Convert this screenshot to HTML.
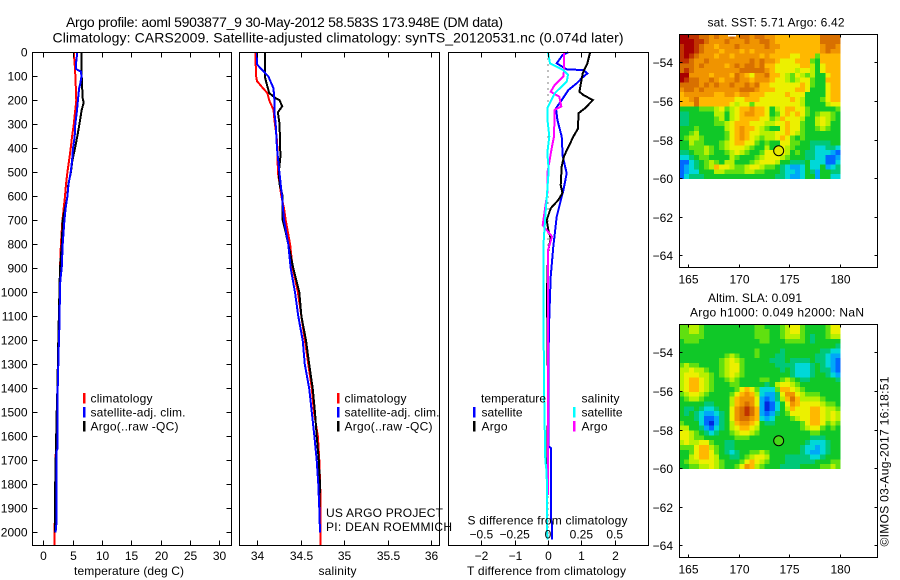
<!DOCTYPE html>
<html lang="en">
<head>
<meta charset="utf-8">
<title>Argo profile aoml 5903877_9</title>
<style>
html,body{margin:0;padding:0;background:#fff;width:900px;height:580px;overflow:hidden}
svg{display:block}
text{font-family:"Liberation Sans",sans-serif;fill:#000;font-size:12px}
</style>
</head>
<body>
<svg id="chart" xmlns="http://www.w3.org/2000/svg" width="900" height="580" viewBox="0 0 900 580">
  <text x="66" y="27" font-size="14" style="font-size:14px" textLength="437">Argo profile: aoml 5903877_9 30-May-2012 58.583S 173.948E (DM data)</text>
  <text x="52.5" y="42.5" style="font-size:14px" textLength="571">Climatology: CARS2009. Satellite-adjusted climatology: synTS_20120531.nc (0.074d later)</text>
  <g id="layer-marks"></g>
  <g id="layer-maps"></g>
  <g id="layer-axes"></g>

  <g>
    <rect x="83" y="393" width="2.5" height="10.5" fill="#f00"/>
    <rect x="83" y="407" width="2.5" height="10.5" fill="#00f"/>
    <rect x="83" y="421" width="2.5" height="10.5" fill="#000"/>
    <text x="90.5" y="402.5" textLength="62">climatology</text>
    <text x="90.5" y="416.5" textLength="95">satellite-adj. clim.</text>
    <text x="90.5" y="430.5" textLength="88">Argo(..raw -QC)</text>
  </g>
  <g>
    <rect x="337" y="393" width="2.5" height="10.5" fill="#f00"/>
    <rect x="337" y="407" width="2.5" height="10.5" fill="#00f"/>
    <rect x="337" y="421" width="2.5" height="10.5" fill="#000"/>
    <text x="344.5" y="402.5" textLength="62">climatology</text>
    <text x="344.5" y="416.5" textLength="95">satellite-adj. clim.</text>
    <text x="344.5" y="430.5" textLength="88">Argo(..raw -QC)</text>
    <text x="326" y="517" textLength="117">US ARGO PROJECT</text>
    <text x="326" y="531" textLength="126">PI: DEAN ROEMMICH</text>
  </g>
  <g>
    <text x="481" y="402.5" textLength="65">temperature</text>
    <text x="581.5" y="402.5" textLength="38">salinity</text>
    <rect x="473" y="407" width="2.5" height="10.5" fill="#00f"/>
    <rect x="473" y="421" width="2.5" height="10.5" fill="#000"/>
    <rect x="573" y="407" width="2.5" height="10.5" fill="#0ff"/>
    <rect x="573" y="421" width="2.5" height="10.5" fill="#f0f"/>
    <text x="481.5" y="416.5" textLength="41">satellite</text>
    <text x="481.5" y="430.5" textLength="26">Argo</text>
    <text x="581.5" y="416.5" textLength="41">satellite</text>
    <text x="581.5" y="430.5" textLength="26">Argo</text>
  </g>

  <text x="74" y="575" textLength="110">temperature (deg C)</text>
  <text x="318.5" y="575" textLength="38">salinity</text>
  <text x="467.5" y="524.5" textLength="160">S difference from climatology</text>
  <text x="467" y="575" textLength="159">T difference from climatology</text>

  <text x="707.5" y="26.5" textLength="137">sat. SST: 5.71  Argo: 6.42</text>
  <text x="708" y="302" textLength="94">Altim. SLA: 0.091</text>
  <text x="690" y="316.5" textLength="174">Argo h1000: 0.049 h2000: NaN</text>
  <text transform="translate(888.5,546.5) rotate(-90)" x="0" y="0" textLength="170">©IMOS 03-Aug-2017 16:18:51</text>
</svg>

<script>
// ---- profile data (depth in dbar) ----
const tempClimDepth = [0,50,100,200,250,300,350,400,450,500,550,600,650,700,800,900,1000,1200,1400,1500,1700,1980,2054];
const tempClimValues = [5.18,5.35,5.46,5.63,5.4,5.2,4.9,4.67,4.4,4.1,3.86,3.7,3.47,3.25,3.0,2.85,2.75,2.55,2.4,2.3,2.1,1.95,1.9];
const tempArgoDepth = [0,100,190,210,240,300,350,400,450,500,550,600,650,700,800,900,1000,1200,1400,1500,1800,2000];
const tempArgoValues = [6.55,6.54,6.7,6.88,6.54,6.15,5.8,5.4,4.95,4.7,4.26,4.1,3.7,3.3,3.15,2.85,2.75,2.56,2.4,2.28,2.03,2.0];
const tempSatDepth = [0,50,70,80,100,130,150,200,250,300,350,400,450,500,550,600,650,700,800,900,950,1000,1150,1250,1400,1650,1660,1950,2000];
const tempSatValues = [5.8,5.55,5.6,6.4,6.5,6.3,6.1,5.9,5.7,5.45,5.35,5.06,4.9,4.66,4.3,4.1,3.8,3.6,3.3,3.13,2.9,2.85,2.73,2.6,2.45,2.45,2.28,2.28,2.1];

const salClimDepth = [0,100,120,150,170,200,240,280,310,350,400,500,600,650,700,800,900,1000,1400,1500,1600,1700,1850,2054];
const salClimValues = [33.98,33.99,34.0,34.07,34.12,34.14,34.19,34.2,34.21,34.225,34.234,34.24,34.28,34.31,34.33,34.38,34.41,34.47,34.63,34.655,34.7,34.716,34.73,34.73];
const salArgoDepth = [0,100,130,170,190,200,225,250,300,400,430,500,550,600,700,750,800,900,1000,1100,1200,1300,1400,1500,1600,1700,1800,1900];
const salArgoValues = [34.09,34.09,34.11,34.14,34.21,34.26,34.29,34.24,34.26,34.265,34.27,34.25,34.26,34.295,34.295,34.33,34.36,34.417,34.486,34.51,34.563,34.6,34.64,34.667,34.686,34.71,34.724,34.716];
const salSatDepth = [0,50,70,100,150,200,250,300,400,500,600,700,800,900,1000,1100,1200,1300,1400,1500,1600,1700,1800,1900,2000];
const salSatValues = [34.0,34.0,34.05,34.13,34.19,34.2,34.2,34.215,34.23,34.257,34.287,34.31,34.36,34.387,34.437,34.475,34.525,34.55,34.6,34.63,34.66,34.686,34.705,34.716,34.724];

const diffTArgoDepth = [0,46,74,88,164,178,199,233,254,317,351,433,476,553,587,615,650,699,740,775,824,851,1000,1400,1845];
const diffTArgoValues = [1.26,1.18,1.08,1.04,0.94,1.06,1.34,1.11,0.91,0.9,0.76,0.48,0.41,0.38,0.43,0.31,0.08,-0.04,0.01,0.08,0.01,0.0,-0.03,0.0,-0.02];
const diffTSatDepth = [0,11,46,71,74,88,108,129,157,199,233,282,351,433,504,574,685,810,935,1100,1300,1640,1650,1950,1960,2030];
const diffTSatValues = [0.61,0.44,0.26,0.56,1.06,1.18,1.01,0.86,0.61,0.41,0.24,0.28,0.41,0.44,0.56,0.46,0.26,0.16,0.08,0.04,0.01,0.01,0.09,0.09,0.12,0.12];
const diffSArgoDepth = [0,74,101,136,164,185,226,240,351,393,504,587,643,720,768,824,935,1400,1845];
const diffSArgoValues = [0.12,0.12,0.115,0.05,0.02,0.085,0.1,0.05,0.045,0.03,-0.005,-0.005,-0.02,-0.04,0.03,0.0,0.0,0.0,0.0];
const diffSSatDepth = [0,46,74,94,122,171,233,275,351,420,490,574,685,810,949,1400,1700,1750,2030];
const diffSSatValues = [0.0,0.015,0.115,0.15,0.14,0.05,-0.005,-0.005,0.01,-0.005,0.005,-0.005,-0.02,-0.035,-0.035,-0.03,-0.02,-0.01,-0.005];

// ---- tick labels ----
const depthTicks = [0,100,200,300,400,500,600,700,800,900,1000,1100,1200,1300,1400,1500,1600,1700,1800,1900,2000];
const tempTicks = [0,5,10,15,20,25,30];
const salTicks = [34,34.5,35,35.5,36];
const diffTTicks = [-2,-1,0,1,2];
const diffSTicks = [-0.5,-0.25,0,0.25,0.5];
const lonTicks = [165,170,175,180];
const latTicks = [-54,-56,-58,-60,-62,-64];

// ---- map data: colour class index per cell, north to south, west to east ----
const sstGrid = [
[13,13,12,12,11,11,10,11,10,10,11,10,11,11,10,11,11,10,10,9,9,9,9,9,9,9,9,9,11,11,11,11],
[13,13,13,12,12,11,10,10,10,11,10,10,10,11,10,10,11,11,10,9,9,9,9,9,9,9,9,9,11,11,11,11],
[12,13,13,12,11,10,10,9,10,10,10,11,10,10,10,10,10,11,10,10,9,9,9,9,9,9,9,9,10,11,11,10],
[12,13,13,12,11,10,10,10,9,10,10,10,9,10,9,10,10,10,10,9,9,9,9,9,9,9,9,9,10,11,10,10],
[12,13,12,11,10,10,10,9,10,10,9,10,10,10,10,10,9,10,9,9,9,9,8,8,9,9,9,6,9,9,9,9],
[12,12,11,10,10,11,10,10,10,10,10,10,10,10,11,10,11,10,10,9,8,8,8,9,9,9,6,5,9,9,9,9],
[11,11,11,10,11,10,10,10,10,9,10,11,10,11,11,10,11,9,9,8,8,8,8,8,9,9,7,5,8,9,9,9],
[11,12,11,10,10,10,10,10,10,10,10,10,11,11,11,11,11,10,9,8,8,8,8,7,8,8,7,5,8,9,9,9],
[13,13,10,10,10,10,9,10,10,10,9,11,10,9,8,10,10,11,9,9,8,7,6,8,7,6,7,5,5,8,9,9],
[13,12,11,11,10,10,11,10,9,10,10,11,10,10,9,10,10,10,9,8,8,7,6,7,8,8,6,5,5,9,9,9],
[11,11,11,11,10,11,10,11,10,10,11,10,10,11,10,11,9,9,8,8,8,8,8,8,9,8,6,5,5,8,9,9],
[10,11,11,10,11,10,10,10,10,10,10,10,11,11,11,10,9,9,9,8,8,8,8,9,9,8,5,5,5,8,9,9],
[9,10,10,10,10,10,10,9,9,10,10,9,10,10,9,9,9,8,8,8,8,9,8,8,8,5,5,5,5,8,9,9],
[9,9,10,11,9,9,9,9,9,9,9,8,8,9,9,9,8,8,8,8,8,8,9,8,7,5,5,5,6,8,9,9],
[9,9,9,11,9,9,9,9,9,9,8,7,8,8,6,8,8,8,8,8,8,8,8,8,7,5,5,5,5,7,8,8],
[5,5,5,5,6,6,6,7,8,6,7,8,9,9,10,9,9,8,5,7,8,9,9,8,8,6,5,5,5,5,5,6],
[4,4,5,5,5,5,5,7,7,5,7,8,9,10,10,9,9,8,5,6,8,9,8,9,8,6,5,6,7,7,6,5],
[4,4,5,5,5,5,5,6,7,5,7,8,9,9,9,9,8,8,6,7,9,8,8,8,7,5,5,7,8,7,6,5],
[4,4,5,5,5,5,5,6,6,7,8,9,9,9,8,8,8,7,7,8,8,9,8,8,6,5,5,7,8,7,5,5],
[5,5,5,6,5,5,5,5,5,7,8,9,10,9,9,8,7,6,5,5,8,9,8,8,6,5,5,6,7,6,5,5],
[5,5,6,7,5,5,5,5,5,6,8,9,10,9,8,8,7,7,7,8,8,9,8,7,6,5,5,5,5,5,5,5],
[5,6,7,7,6,5,5,5,5,6,8,9,10,9,8,7,6,7,7,8,9,8,6,5,6,5,5,5,5,5,5,5],
[5,5,7,6,6,5,5,5,6,7,8,9,9,8,8,6,5,6,5,5,8,8,6,6,5,5,4,4,4,4,5,5],
[5,5,6,6,6,7,6,5,6,7,8,8,8,7,6,5,5,7,5,5,8,7,6,5,5,5,4,3,3,4,4,3],
[4,4,5,6,6,7,6,5,5,6,7,8,7,6,5,5,6,8,8,8,8,7,5,6,5,4,4,3,3,3,2,1],
[3,3,4,5,6,6,5,5,5,5,7,6,5,5,5,6,7,8,8,8,7,6,5,5,5,4,4,3,3,1,1,2],
[1,1,3,4,5,6,7,6,5,7,7,5,5,5,6,7,8,8,8,7,5,5,4,4,4,5,3,3,3,1,1,3],
[1,2,3,4,5,6,7,9,8,8,7,6,6,7,8,8,7,6,6,5,4,3,2,2,3,5,3,3,5,2,3,4],
[1,2,3,3,5,5,5,7,7,6,6,6,6,7,7,6,6,5,5,5,4,3,3,2,3,5,4,2,5,5,4,4],
[1,3,4,4,4,5,5,5,5,5,5,5,5,5,5,5,5,5,5,4,4,3,2,2,3,5,5,2,5,5,3,3]
];
const slaGrid = [
[6,6,7,7,6,5,5,5,5,5,5,5,5,5,5,6,6,5,5,5,6,7,8,8,6,5,5,5,5,6,8,8],
[6,6,7,7,6,5,5,5,5,5,5,5,5,5,5,6,6,6,5,5,6,7,8,8,6,5,5,5,5,6,8,8],
[6,6,6,6,6,5,5,5,5,5,5,5,5,5,5,6,6,6,5,5,6,7,7,7,6,5,4,5,5,6,7,7],
[5,6,6,6,5,5,5,5,5,5,5,5,5,5,5,5,6,6,5,5,5,6,6,6,6,5,4,5,5,5,5,5],
[5,5,5,5,5,5,5,5,5,5,5,5,5,5,5,5,5,5,5,5,5,5,5,5,5,5,5,5,5,5,5,4],
[5,5,5,5,5,5,5,5,5,5,5,5,5,5,5,6,5,5,5,5,4,5,5,5,5,5,5,5,4,4,3,3],
[5,5,5,5,5,5,5,5,5,6,7,6,5,5,5,6,5,5,5,4,4,5,5,5,5,5,5,4,4,3,2,2],
[5,5,5,5,5,5,5,5,6,7,8,7,6,5,5,5,5,5,4,4,4,5,4,4,4,4,5,4,4,3,2,1],
[6,7,6,6,5,5,5,5,6,7,8,8,6,5,5,5,5,5,5,4,4,4,4,3,3,3,4,5,4,3,2,1],
[7,7,8,7,7,6,5,5,6,7,8,8,6,5,5,5,5,5,5,5,4,5,4,3,3,3,4,5,4,4,2,1],
[7,8,8,8,7,7,6,5,6,7,8,7,6,5,5,5,5,5,5,5,5,5,4,3,3,3,4,5,5,4,3,2],
[7,8,9,9,8,7,6,5,5,6,7,6,5,5,5,5,6,6,5,5,6,7,6,5,4,4,5,5,5,5,5,4],
[7,8,9,9,8,7,6,5,5,5,6,6,5,5,5,5,5,4,5,7,8,8,7,6,5,5,5,5,5,5,5,5],
[7,8,9,9,8,7,6,5,5,5,5,6,8,9,8,6,3,3,3,6,9,9,8,7,6,5,5,5,5,5,5,5],
[6,7,8,8,7,6,5,5,5,5,6,8,9,10,9,7,3,2,2,4,8,10,10,8,7,6,6,6,5,5,5,5],
[5,6,7,7,6,5,5,5,5,5,7,9,10,10,10,8,2,1,2,4,7,9,11,9,7,7,7,7,6,5,5,5],
[5,5,5,5,5,4,4,5,5,5,7,9,10,11,10,8,2,0,1,3,5,8,10,9,8,8,8,8,7,6,6,5],
[5,4,4,5,4,3,3,4,5,5,8,10,11,12,11,9,2,0,1,3,5,7,9,8,8,8,9,9,8,7,7,6],
[5,4,5,4,3,2,2,3,4,5,8,10,11,12,11,9,2,1,2,4,5,6,8,8,8,8,9,9,8,7,8,7],
[5,5,5,4,3,1,1,2,4,5,8,10,11,11,10,9,3,2,3,5,5,5,6,7,8,8,9,9,8,7,8,7],
[6,5,5,5,3,1,0,2,4,5,7,9,10,10,9,8,5,4,4,5,5,5,5,5,6,8,9,9,8,6,7,6],
[7,7,5,5,4,2,1,3,4,5,7,8,9,9,8,7,5,5,5,5,5,5,5,5,6,7,8,8,6,5,6,5],
[8,8,7,6,5,4,3,4,5,5,6,7,8,8,7,6,5,5,5,5,5,5,5,5,5,5,6,6,5,5,5,5],
[8,8,7,6,6,5,5,5,5,5,5,6,6,6,5,5,5,5,5,5,5,5,5,5,5,5,4,4,4,5,5,5],
[7,8,7,7,8,8,6,5,5,4,4,5,5,5,5,5,5,5,5,5,5,5,5,5,5,4,3,3,3,4,5,5],
[6,6,6,8,9,9,7,6,5,4,4,5,5,5,5,5,5,5,5,5,5,5,5,5,4,3,3,2,3,4,5,5],
[5,5,6,8,9,9,8,6,5,4,3,4,5,5,6,6,7,6,5,5,5,5,5,5,4,3,2,2,3,4,5,5],
[5,5,7,8,9,9,8,7,5,5,4,4,5,6,7,8,8,7,5,5,5,4,4,4,4,4,3,3,4,5,5,5],
[5,6,7,7,8,8,8,7,6,5,5,5,6,8,9,8,7,6,5,5,5,4,4,4,4,4,4,5,5,5,6,6],
[5,5,6,6,7,7,8,7,6,5,5,6,8,10,9,7,6,5,5,5,4,4,4,4,5,5,5,5,6,6,7,6]
];
const floatLon = [173.948];
const floatLat = [-58.583];

const colorRamp = ['#0028e0','#0068ff','#00a8f8','#00d8d8','#00c878','#10c828','#60e010','#b8f000','#ecf000','#ffb800','#f09400','#d87000','#c03400','#a80000'];

// ---- axis functions ----
const depthY = d => 52.3 + 0.24 * d;
const tempX = v => 43.3 + 5.87 * v;
const salX = v => 257 + 87 * (v - 34);
const diffTX = v => 548 + 33.4 * v;
const diffSX = v => 548 + 133.4 * v;
const mapX = lon => 688.3 + 10.1 * (lon - 165);
const mapY = (lat, off) => 62.3 + off + 19.3 * (-54 - lat);
const fmt = v => String(v).replace('-', '\u2212');

const SVGNS = 'http://www.w3.org/2000/svg';
const layerMarks = document.getElementById('layer-marks');
const layerMaps = document.getElementById('layer-maps');
const layerAxes = document.getElementById('layer-axes');

function make(tag, parent, props) {
  const el = document.createElementNS(SVGNS, tag);
  for (const k in props) el.setAttribute(k, props[k]);
  parent.appendChild(el);
  return el;
}

function drawLine(name, depths, values, xf, color) {
  const pts = values.map((v, i) => xf(v).toFixed(1) + ',' + depthY(depths[i]).toFixed(1)).join(' ');
  const el = make('polyline', layerMarks, {points: pts, fill: 'none', stroke: color, 'stroke-width': 2, 'stroke-linejoin': 'miter', 'shape-rendering': 'crispEdges'});
  
  
}

// zero reference line of the difference panel
const zeroLine = make('line', layerMarks, {x1: diffTX(0), x2: diffTX(0), y1: depthY(0), y2: depthY(2054), stroke: '#000', 'stroke-width': 1, 'stroke-dasharray': '1 5', 'shape-rendering': 'crispEdges'});



drawLine('temperature-climatology-line', tempClimDepth, tempClimValues, tempX, '#f00');
drawLine('temperature-argo-line', tempArgoDepth, tempArgoValues, tempX, '#000');
drawLine('temperature-satellite-line', tempSatDepth, tempSatValues, tempX, '#00f');
drawLine('salinity-climatology-line', salClimDepth, salClimValues, salX, '#f00');
drawLine('salinity-argo-line', salArgoDepth, salArgoValues, salX, '#000');
drawLine('salinity-satellite-line', salSatDepth, salSatValues, salX, '#00f');
drawLine('t-difference-satellite-line', diffTSatDepth, diffTSatValues, diffTX, '#00f');
drawLine('t-difference-argo-line', diffTArgoDepth, diffTArgoValues, diffTX, '#000');
drawLine('s-difference-argo-line', diffSArgoDepth, diffSArgoValues, diffSX, '#f0f');
drawLine('s-difference-satellite-line', diffSSatDepth, diffSSatValues, diffSX, '#0ff');

// ---- heatmaps ----
function drawMap(name, grid, off) {
  const g = make('g', layerMaps, {'shape-rendering': 'crispEdges'});
  
  
  const dLon = 0.5, dLat = 0.25, lon0 = 164.06, lat0 = -52.55;
  grid.forEach((row, r) => {
    row.forEach((v, c) => {
      const x0 = mapX(lon0 + c * dLon), x1 = mapX(lon0 + (c + 1) * dLon);
      const y0 = mapY(lat0 - r * dLat, off), y1 = mapY(lat0 - (r + 1) * dLat, off);
      const cell = make('rect', g, {x: x0.toFixed(2), y: y0.toFixed(2), width: (x1 - x0).toFixed(2), height: (y1 - y0).toFixed(2), fill: colorRamp[v]});
      
      
    });
  });
}
drawMap('sst-heatmap', sstGrid, 0);
drawMap('sla-heatmap', slaGrid, 290);

const sstGap = make('rect', layerMaps, {x: 728, y: 34, width: 8, height: 2.5, fill: '#fff'});



const sstMarker = make('circle', layerMaps, {cx: mapX(floatLon[0]), cy: mapY(floatLat[0], 0), r: 5, fill: '#e8e800', stroke: '#000', 'stroke-width': 1});


const slaMarker = make('circle', layerMaps, {cx: mapX(floatLon[0]), cy: mapY(floatLat[0], 290), r: 5, fill: '#48d818', stroke: '#000', 'stroke-width': 1});



// ---- axes ----
function drawBox(name, x, y, w, h) {
  const box = make('rect', layerAxes, {x: x, y: y, width: w, height: h, fill: 'none', stroke: '#000', 'stroke-width': 1, 'shape-rendering': 'crispEdges'});
  
  
}
function drawTick(x1, y1, x2, y2) {
  const t = make('line', layerAxes, {x1: x1, y1: y1, x2: x2, y2: y2, stroke: '#000', 'stroke-width': 1, 'shape-rendering': 'crispEdges'});
  
  
}
function drawLabel(txt, x, y, anchor) {
  const t = make('text', layerAxes, {x: x, y: y, 'text-anchor': anchor});
  t.textContent = txt;
  
  
}

drawBox('temperature-panel-frame', 32.5, 52.5, 199, 493);
drawBox('salinity-panel-frame', 239.5, 52.5, 200, 493);
drawBox('difference-panel-frame', 448.5, 52.5, 200, 493);
drawBox('sst-map-frame', 679.5, 34.5, 198, 233);
drawBox('sla-map-frame', 679.5, 324.5, 198, 233);

depthTicks.forEach(d => {
  const y = Math.round(depthY(d)) + 0.5;
  if (d > 0) {
    drawTick(32.5, y, 37.5, y);
    drawTick(226.5, y, 231.5, y);
  }
  drawLabel(String(d), 27.5, y + 4, 'end');
});
function xTicks(ticks, xf, withLabels, yLabel) {
  ticks.forEach(v => {
    const x = Math.round(xf(v)) + 0.5;
    drawTick(x, 52.5, x, 57.5);
    drawTick(x, 545.5, x, 540.5);
    if (withLabels) drawLabel(fmt(v), x, yLabel, 'middle');
  });
}
xTicks(tempTicks, tempX, true, 560);
xTicks(salTicks, salX, true, 560);
xTicks(diffTTicks, diffTX, true, 560);
diffSTicks.forEach(v => {
  drawLabel(fmt(v), diffSX(v), 538.5, 'middle');
});

[0, 290].forEach(off => {
  const top = off === 0 ? 34.5 : 324.5;
  const bottom = top + 233;
  lonTicks.forEach(lon => {
    const x = Math.round(mapX(lon)) + 0.5;
    drawTick(x, top, x, top + 3);
    drawTick(x, bottom, x, bottom - 3);
    drawLabel(String(lon), x, bottom + 16, 'middle');
  });
  latTicks.forEach(lat => {
    const y = Math.round(mapY(lat, off)) + 0.5;
    drawTick(679.5, y, 682.5, y);
    drawTick(877.5, y, 874.5, y);
    drawLabel(fmt(lat), 673, y + 4.5, 'end');
  });
});
</script>
</body>
</html>
